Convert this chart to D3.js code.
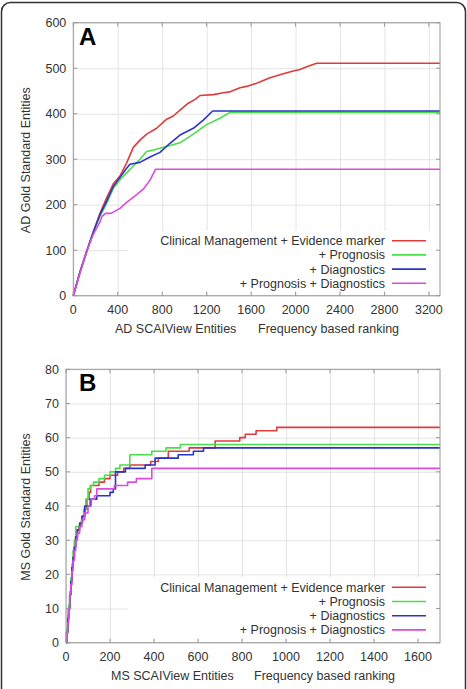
<!DOCTYPE html>
<html>
<head>
<meta charset="utf-8">
<script src="https://cdn.jsdelivr.net/npm/d3@7"></script>
<style>
  body { margin: 0; background: #fff; }
  text { font-family: "Liberation Sans", Arial, sans-serif; fill: #333; }
</style>
</head>
<body>
<div id="chart"></div>
<script>
var width = 467, height = 689;

// series names / colours
var seriesNames = ["Clinical Management + Evidence marker", "+ Prognosis", "+ Diagnostics", "+ Prognosis + Diagnostics"];
var colorList = ["#e03b3b", "#4ade4a", "#2a35c8", "#dc4cdc"];

// panel A: AD, [rank, entities]
var adRed = [[0,0],[60,52],[120,97],[180,140],[240,181],[300,215],[360,246],[420,263],[480,292],[540,326],[600,342],[660,355],[750,368],[840,388],[900,395],[960,408],[1035,423],[1100,432],[1140,440],[1260,442],[1350,446],[1410,448],[1500,457],[1560,460],[1650,467],[1770,479],[1890,488],[1980,494],[2040,497],[2100,503],[2190,511],[3300,511]];
var adGreen = [[0,0],[60,52],[120,97],[180,140],[240,175],[300,203],[360,236],[420,255],[480,270],[540,285],[600,300],[660,317],[720,320],[780,324],[870,330],[960,336],[1080,355],[1200,376],[1320,390],[1410,403],[3300,403]];
var adBlue = [[0,0],[60,52],[120,97],[180,140],[240,178],[300,208],[360,240],[420,260],[480,280],[510,289],[600,293],[690,305],[780,315],[870,335],[960,353],[1080,368],[1170,386],[1254,406],[3300,406]];
var adMagenta = [[0,0],[60,50],[120,97],[180,135],[240,162],[260,175],[290,181],[340,181],[420,192],[480,205],[570,222],[630,234],[690,254],[741,278],[3300,278]];

// panel B: MS, [rank, entities] (step changes)
var msRed = [[0,0],[3,3],[8,7],[12,10],[17,14],[22,18],[27,22],[32,25],[38,28],[44,31],[50,33],[58,34],[66,35],[75,37],[85,39],[95,42],[105,44],[112,46],[150,47],[175,48],[200,49],[235,50],[262,51],[290,52],[385,53],[420,54],[465,56],[560,57],[678,59],[790,60],[815,61],[864,62],[958,63],[1700,63]];
var msGreen = [[0,0],[3,4],[8,8],[12,11],[17,15],[22,19],[27,23],[32,27],[38,30],[44,34],[60,34],[70,36],[80,39],[90,42],[100,45],[110,46],[125,47],[150,48],[175,49],[200,50],[225,51],[245,52],[290,55],[390,56],[455,57],[520,58],[1700,58]];
var msBlue = [[0,0],[3,3],[8,7],[12,10],[17,14],[22,18],[27,22],[32,25],[38,28],[44,31],[52,33],[62,35],[72,37],[85,40],[110,42],[140,43],[200,44],[215,45],[225,50],[270,51],[360,52],[405,54],[510,55],[579,56],[625,57],[1700,57]];
var msMagenta = [[0,0],[3,3],[8,6],[12,10],[17,14],[22,17],[27,21],[32,24],[38,27],[44,30],[52,32],[62,34],[72,36],[85,38],[100,40],[115,42],[130,43],[140,45],[220,46],[280,47],[320,48],[390,51],[1700,51]];

var adXTicks = [0,400,800,1200,1600,2000,2400,2800,3200];
var adYTicks = [0,100,200,300,400,500,600];
var msXTicks = [0,200,400,600,800,1000,1200,1400,1600];
var msYTicks = [0,10,20,30,40,50,60,70,80];

var fs = 12.5;

var svg = d3.select("#chart").append("svg")
  .attr("width", width)
  .attr("height", height);

// outer frame
svg.append("rect")
  .attr("x", 1.5).attr("y", 2.5)
  .attr("width", 464).attr("height", 700)
  .attr("rx", 9)
  .attr("fill", "none")
  .attr("stroke", "#333")
  .attr("stroke-width", 1.5);

function drawPanel(opt) {
  var x = d3.scaleLinear().domain([0, opt.xMax]).range([opt.left, opt.right]);
  var y = d3.scaleLinear().domain([0, opt.yMax]).range([opt.bottom, opt.top]);
  var g = svg.append("g");

  // grid
  g.append("g").attr("transform", "translate(0," + opt.bottom + ")")
    .call(d3.axisBottom(x).tickValues(opt.xTicks).tickSize(-(opt.bottom - opt.top)).tickFormat(""))
    .call(function(s) { s.select(".domain").remove(); s.selectAll("line").attr("stroke", "#e4e4e4"); });
  g.append("g").attr("transform", "translate(" + opt.left + ",0)")
    .call(d3.axisLeft(y).tickValues(opt.yTicks).tickSize(-(opt.right - opt.left)).tickFormat(""))
    .call(function(s) { s.select(".domain").remove(); s.selectAll("line").attr("stroke", "#e4e4e4"); });

  // data lines
  var line = d3.line()
    .curve(opt.curve)
    .x(function(d) { return x(d[0]); })
    .y(function(d) { return y(d[1]); });
  opt.series.forEach(function(s, i) {
    g.append("path")
      .datum(s)
      .attr("d", line)
      .attr("fill", "none")
      .attr("stroke", colorList[i])
      .attr("stroke-width", 1.6)
      .attr("stroke-linejoin", "round");
  });

  // opaque key box
  g.append("rect")
    .attr("x", 128).attr("y", opt.keyTop - 10)
    .attr("width", opt.right - 129)
    .attr("height", opt.bottom - opt.keyTop + 6)
    .attr("fill", "#fff");

  // frame + inward ticks on all sides
  g.append("rect")
    .attr("x", opt.left).attr("y", opt.top)
    .attr("width", opt.right - opt.left).attr("height", opt.bottom - opt.top)
    .attr("fill", "none").attr("stroke", "#999").attr("stroke-width", 1);
  var tk = 4;
  opt.xTicks.forEach(function(t) {
    g.append("line").attr("x1", x(t)).attr("x2", x(t)).attr("y1", opt.bottom).attr("y2", opt.bottom - tk).attr("stroke", "#999");
    g.append("line").attr("x1", x(t)).attr("x2", x(t)).attr("y1", opt.top).attr("y2", opt.top + tk).attr("stroke", "#999");
  });
  opt.yTicks.forEach(function(t) {
    g.append("line").attr("x1", opt.left).attr("x2", opt.left + tk).attr("y1", y(t)).attr("y2", y(t)).attr("stroke", "#999");
    g.append("line").attr("x1", opt.right).attr("x2", opt.right - tk).attr("y1", y(t)).attr("y2", y(t)).attr("stroke", "#999");
  });

  // tick labels
  g.selectAll(".xl").data(opt.xTicks).enter().append("text")
    .attr("x", function(d) { return x(d); })
    .attr("y", opt.bottom + 18)
    .attr("text-anchor", "middle")
    .attr("font-size", fs)
    .text(function(d) { return d; });
  g.selectAll(".yl").data(opt.yTicks).enter().append("text")
    .attr("x", opt.left - 7)
    .attr("y", function(d) { return y(d) + 4.5; })
    .attr("text-anchor", "end")
    .attr("font-size", fs)
    .text(function(d) { return d; });

  // axis titles
  g.append("text")
    .attr("transform", "translate(30," + ((opt.top + opt.bottom) / 2 + 1) + ") rotate(-90)")
    .attr("text-anchor", "middle")
    .attr("font-size", fs)
    .text(opt.yTitle);
  g.append("text").attr("x", opt.xTitleX).attr("y", opt.bottom + 37).attr("font-size", fs).text(opt.xTitle);
  g.append("text").attr("x", opt.xTitleX + 143).attr("y", opt.bottom + 37).attr("font-size", fs).text("Frequency based ranking");

  // panel letter
  g.append("text")
    .attr("x", 79).attr("y", opt.top + 22)
    .attr("font-size", 24).attr("font-weight", "bold")
    .style("fill", "#000")
    .text(opt.letter);

  // key
  seriesNames.forEach(function(name, i) {
    var ky = opt.keyTop + i * 14.2;
    g.append("text")
      .attr("x", 385).attr("y", ky + 4.5)
      .attr("text-anchor", "end")
      .attr("font-size", fs)
      .text(name);
    g.append("line")
      .attr("x1", 392).attr("x2", 426)
      .attr("y1", ky).attr("y2", ky)
      .attr("stroke", colorList[i]).attr("stroke-width", 1.6);
  });
}

drawPanel({
  left: 73.3, right: 440, top: 22.7, bottom: 295.7,
  xMax: 3300, yMax: 600, xTicks: adXTicks, yTicks: adYTicks,
  series: [adRed, adGreen, adBlue, adMagenta],
  curve: d3.curveLinear,
  keyTop: 240.7,
  yTitle: "AD Gold Standard Entities",
  xTitle: "AD SCAIView Entities", xTitleX: 115,
  letter: "A"
});

drawPanel({
  left: 66, right: 440, top: 369.3, bottom: 642.7,
  xMax: 1700, yMax: 80, xTicks: msXTicks, yTicks: msYTicks,
  series: [msRed, msGreen, msBlue, msMagenta],
  curve: d3.curveStepAfter,
  keyTop: 587.3,
  yTitle: "MS Gold Standard Entities",
  xTitle: "MS SCAIView Entities", xTitleX: 111,
  letter: "B"
});
</script>
</body>
</html>
